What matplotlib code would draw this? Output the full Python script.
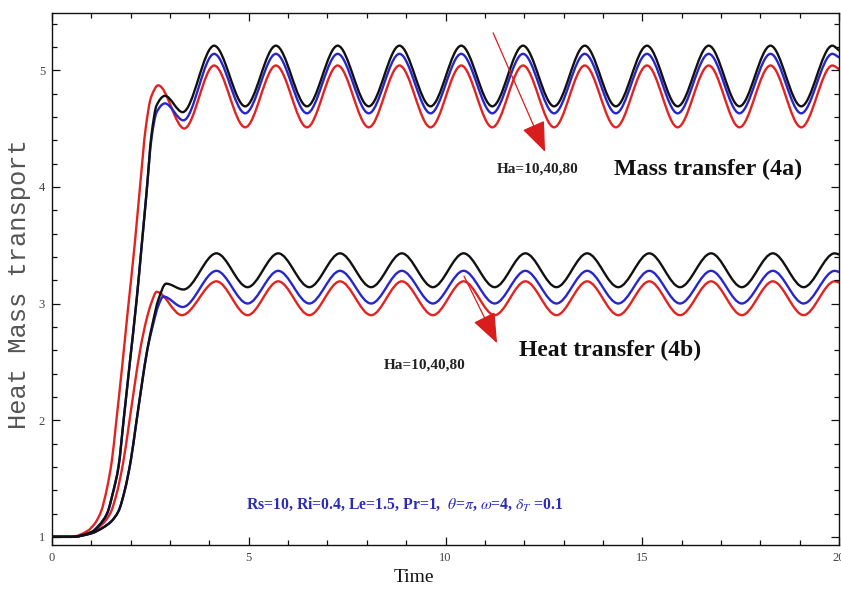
import numpy as np
import matplotlib
matplotlib.use("Agg")
import matplotlib.pyplot as plt
from matplotlib.path import Path
from matplotlib.patches import PathPatch, FancyArrowPatch, ArrowStyle

# ---------------------------------------------------------------------------
# Data: key points of each response curve (start-up, first overshoot,
# then the extrema of the periodic steady state).
# ---------------------------------------------------------------------------
# Mass transfer (4a)
mass_red_t = [0.0, 0.5, 0.9, 1.1, 1.25, 1.4, 1.52, 1.63, 1.78, 1.93, 2.1, 2.25, 2.38, 2.52, 2.70, 3.36]
mass_red_y = [1.0, 1.0, 1.05, 1.12, 1.22, 1.42, 1.65, 1.98, 2.45, 2.95, 3.5, 4.05, 4.5, 4.77, 4.87, 4.50]
mass_black_t = [0.0, 0.5, 1.0, 1.2, 1.4, 1.55, 1.69, 1.82, 1.98, 2.15, 2.28, 2.40, 2.53, 2.66, 2.87, 3.32]
mass_black_y = [1.0, 1.0, 1.04, 1.1, 1.2, 1.38, 1.6, 2.0, 2.5, 3.03, 3.5, 3.94, 4.45, 4.70, 4.78, 4.64]
mass_blue_t = [0.0, 0.5, 1.0, 1.2, 1.4, 1.55, 1.69, 1.82, 1.98, 2.15, 2.28, 2.40, 2.53, 2.66, 2.87, 3.34]
mass_blue_y = [1.0, 1.0, 1.04, 1.1, 1.2, 1.38, 1.6, 2.0, 2.5, 3.03, 3.5, 3.94, 4.42, 4.64, 4.715, 4.57]

# steady oscillation: alternating peak / trough times, last entry is t = 20
mass_osc_t = [4.12, 4.91, 5.69, 6.48, 7.26, 8.05, 8.83, 9.62, 10.40, 11.19, 11.97,
              12.76, 13.54, 14.33, 15.12, 15.90, 16.69, 17.47, 18.26, 19.04, 19.83, 20.0]
mass_black_osc = [5.21, 4.69, 5.21, 4.69, 5.21, 4.69, 5.21, 4.69, 5.21, 4.69, 5.21,
                  4.69, 5.21, 4.69, 5.21, 4.69, 5.21, 4.69, 5.21, 4.69, 5.21, 5.17]
mass_blue_osc = [5.14, 4.63, 5.14, 4.63, 5.14, 4.63, 5.14, 4.63, 5.14, 4.63, 5.14,
                 4.63, 5.14, 4.63, 5.14, 4.63, 5.14, 4.63, 5.14, 4.63, 5.14, 5.11]
mass_red_osc = [5.04, 4.51, 5.04, 4.51, 5.04, 4.51, 5.04, 4.51, 5.04, 4.51, 5.04,
                4.51, 5.04, 4.51, 5.04, 4.51, 5.04, 4.51, 5.04, 4.51, 5.04, 5.01]

# Heat transfer (4b)
heat_red_t = [0.0, 0.5, 1.0, 1.25, 1.48, 1.65, 1.8, 1.95, 2.1, 2.25, 2.4, 2.52, 2.66, 3.30]
heat_red_y = [1.0, 1.0, 1.04, 1.1, 1.2, 1.38, 1.62, 1.95, 2.3, 2.62, 2.86, 3.0, 3.10, 2.90]
heat_black_t = [0.0, 0.5, 1.0, 1.3, 1.5, 1.69, 1.85, 2.0, 2.13, 2.28, 2.42, 2.57, 2.7, 2.9, 3.34]
heat_black_y = [1.0, 1.0, 1.03, 1.08, 1.13, 1.22, 1.4, 1.65, 1.95, 2.3, 2.6, 2.85, 3.03, 3.17, 3.12]
heat_blue_t = [0.0, 0.5, 1.0, 1.3, 1.5, 1.69, 1.85, 2.0, 2.13, 2.28, 2.42, 2.57, 2.7, 2.83, 3.32]
heat_blue_y = [1.0, 1.0, 1.03, 1.08, 1.13, 1.22, 1.4, 1.65, 1.95, 2.3, 2.6, 2.82, 2.98, 3.06, 2.97]

heat_osc_t = [4.18, 4.97, 5.75, 6.54, 7.32, 8.11, 8.89, 9.68, 10.46, 11.25, 12.03,
              12.82, 13.60, 14.39, 15.18, 15.96, 16.75, 17.53, 18.32, 19.10, 19.89, 20.0]
heat_black_osc = [3.43, 3.14, 3.43, 3.14, 3.43, 3.14, 3.43, 3.14, 3.43, 3.14, 3.43,
                  3.14, 3.43, 3.14, 3.43, 3.14, 3.43, 3.14, 3.43, 3.14, 3.43, 3.42]
heat_blue_osc = [3.28, 3.00, 3.28, 3.00, 3.28, 3.00, 3.28, 3.00, 3.28, 3.00, 3.28,
                 3.00, 3.28, 3.00, 3.28, 3.00, 3.28, 3.00, 3.28, 3.00, 3.28, 3.27]
heat_red_osc = [3.19, 2.90, 3.19, 2.90, 3.19, 2.90, 3.19, 2.90, 3.19, 2.90, 3.19,
                2.90, 3.19, 2.90, 3.19, 2.90, 3.19, 2.90, 3.19, 2.90, 3.19, 3.18]

x_ticks = [0, 5, 10, 15, 20]
y_ticks = [1, 2, 3, 4, 5]

RED = "#e2231f"
BLUE = "#2626cc"
BLACK = "#111111"


def smooth_path(t, y):
    """Monotone cubic (Fritsch-Butland) path through the points as Bezier segments."""
    t = np.asarray(t, float)
    y = np.asarray(y, float)
    h = np.diff(t)
    d = np.diff(y) / h
    m = np.zeros_like(y)
    m[0], m[-1] = d[0], d[-1]
    for i in range(1, len(y) - 1):
        if d[i - 1] * d[i] > 0:
            w1 = 2 * h[i] + h[i - 1]
            w2 = h[i] + 2 * h[i - 1]
            m[i] = (w1 + w2) / (w1 / d[i - 1] + w2 / d[i])
    verts = [(t[0], y[0])]
    codes = [Path.MOVETO]
    for i in range(len(h)):
        verts += [(t[i] + h[i] / 3, y[i] + m[i] * h[i] / 3),
                  (t[i + 1] - h[i] / 3, y[i + 1] - m[i + 1] * h[i] / 3),
                  (t[i + 1], y[i + 1])]
        codes += [Path.CURVE4] * 3
    return Path(verts, codes)


plt.rcParams["mathtext.fontset"] = "stix"

fig = plt.figure(figsize=(8.41, 5.96), dpi=100)
ax = fig.add_axes([52 / 841, 51 / 596, 787 / 841, 532 / 596])

curves = [
    (mass_red_t + mass_osc_t, mass_red_y + mass_red_osc, RED),
    (heat_red_t + heat_osc_t, heat_red_y + heat_red_osc, RED),
    (mass_blue_t + mass_osc_t, mass_blue_y + mass_blue_osc, BLUE),
    (heat_blue_t + heat_osc_t, heat_blue_y + heat_blue_osc, BLUE),
    (mass_black_t + mass_osc_t, mass_black_y + mass_black_osc, BLACK),
    (heat_black_t + heat_osc_t, heat_black_y + heat_black_osc, BLACK),
]
for tt, yy, col in curves:
    ax.add_patch(PathPatch(smooth_path(tt, yy), fill=False, edgecolor=col,
                           lw=1.7, capstyle="round", joinstyle="round"))

ax.set_xlim(0, 20)
ax.set_ylim(0.93, 5.49)

ax.set_xticks(x_ticks)
ax.set_yticks(y_ticks)
ax.set_xticks(np.arange(0, 21, 1), minor=True)
ax.set_yticks(np.arange(1.0, 5.41, 0.2), minor=True)
ax.tick_params(which="both", direction="in", top=True, right=True,
               colors=BLACK, labelcolor="#444444", width=0.9)
ax.tick_params(which="major", length=6, labelsize=9, pad=5)
ax.tick_params(which="minor", length=3.5)
for lab in ax.get_xticklabels() + ax.get_yticklabels():
    lab.set_fontfamily("Liberation Serif")
for sp in ax.spines.values():
    sp.set_linewidth(1.0)
    sp.set_color(BLACK)

ax.set_ylabel("Heat Mass transport", family="Liberation Mono", fontsize=18.4,
              color="#555555", labelpad=2)
ax.set_xlabel("Time", family="Liberation Serif", fontsize=14, color=BLACK,
              labelpad=6)
ax.xaxis.set_label_coords(0.46, -0.045)
ax.yaxis.set_label_coords(-0.027, 0.49)

ax.text(14.28, 4.15, "Mass transfer (4a)", family="Liberation Serif",
        weight="bold", fontsize=17.3, va="center", ha="left", color=BLACK)
ax.text(11.87, 2.60, "Heat transfer (4b)", family="Liberation Serif",
        weight="bold", fontsize=17, va="center", ha="left", color=BLACK)
ax.text(11.31, 4.15, "Ha=10,40,80", family="Liberation Serif", weight="bold",
        fontsize=11, va="center", ha="left", color="#222222")
ax.text(8.44, 2.47, "Ha=10,40,80", family="Liberation Serif", weight="bold",
        fontsize=11, va="center", ha="left", color="#222222")

ax.text(4.93, 1.274,
        r"Rs=10, Ri=0.4, Le=1.5, Pr=1,  $\theta$=$\pi$, $\omega$=4, $\delta_T$ =0.1",
        family="Liberation Serif", weight="bold", fontsize=11.3, va="center",
        ha="left", color="#2b2bb8")

arrow_style = ArrowStyle("-|>", head_length=1.9, head_width=0.75)
for start, end in [((11.21, 5.32), (12.53, 4.30)), ((10.47, 3.235), (11.31, 2.66))]:
    ax.add_patch(FancyArrowPatch(start, end, arrowstyle=arrow_style,
                                 mutation_scale=10, color="#d91c1c", lw=0.9,
                                 shrinkA=0, shrinkB=0))

fig.savefig("out.png", dpi=100)
